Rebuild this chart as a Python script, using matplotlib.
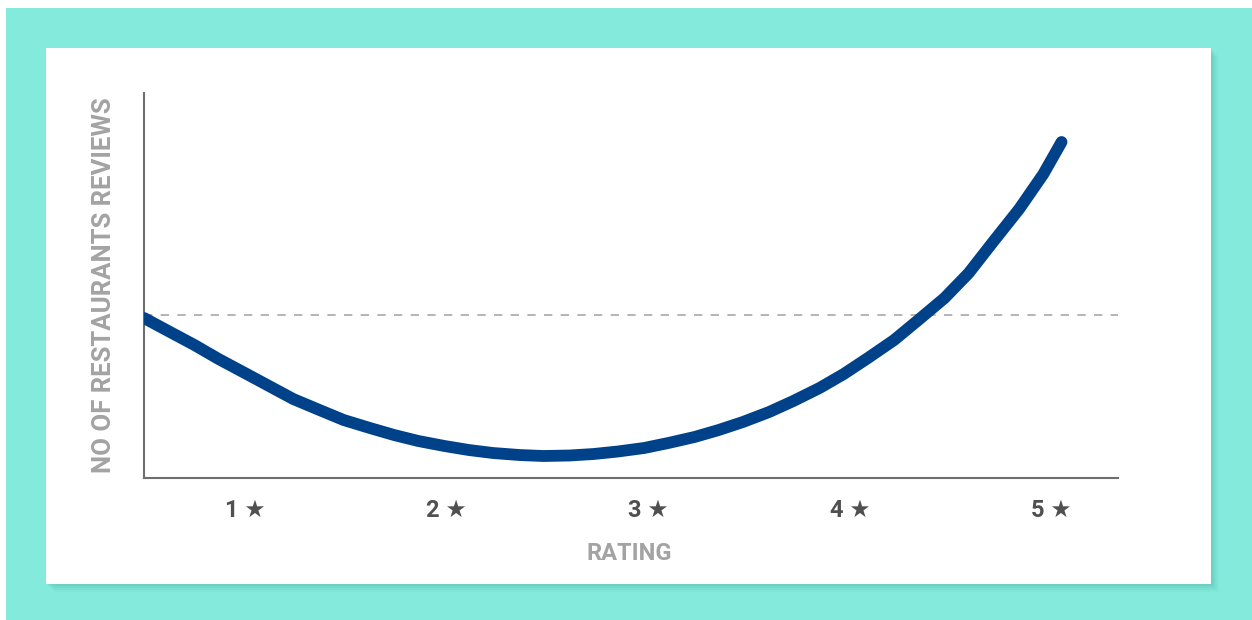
import matplotlib.pyplot as plt
from matplotlib.patches import Rectangle

# rating (x) vs number of reviews (arbitrary units)
ratings = [0.50, 0.62, 0.75, 0.87, 1.00, 1.12, 1.24, 1.37, 1.49, 1.62,
           1.74, 1.86, 1.99, 2.11, 2.23, 2.36, 2.48, 2.61, 2.73, 2.85,
           2.98, 3.10, 3.23, 3.35, 3.47, 3.60, 3.72, 3.85, 3.97, 4.09,
           4.22, 4.34, 4.47, 4.59, 4.71, 4.84, 4.96, 5.05]
reviews = [160, 147, 133, 119, 105, 92, 79, 68, 58, 50,
           43, 37, 32, 28, 25, 23, 22, 22.5, 24, 26.5,
           30, 35, 41, 48, 56, 66, 77, 90, 104, 120,
           138, 158, 180, 205, 236, 269, 304, 336]
average = 163

tick_pos = [1, 2, 3, 4, 5]
tick_labels = ['1 ★', '2 ★', '3 ★', '4 ★', '5 ★']

W, H = 1252, 620
fig = plt.figure(figsize=(W / 100, H / 100), dpi=100)
fig.patch.set_facecolor('white')


def px_rect(x0, y0, x1, y1, **kw):
    # rectangle in pixel coords (top-left origin) -> figure fraction
    return Rectangle((x0 / W, 1 - y1 / H), (x1 - x0) / W, (y1 - y0) / H,
                     transform=fig.transFigure, **kw)


fig.patches.append(px_rect(6, 8, W, H, facecolor='#84ebdc', edgecolor='none', zorder=0))
# soft shadow under the card
for i, a in enumerate([0.10, 0.08, 0.06, 0.04]):
    d = 2 + i * 2
    fig.patches.append(px_rect(46 + d, 48 + d, 1211 + d, 584 + d,
                               facecolor='#2a8a7c', edgecolor='none', alpha=a, zorder=0.5))
fig.patches.append(px_rect(46, 48, 1211, 584, facecolor='white', edgecolor='none', zorder=1))

ax = fig.add_axes([144 / W, 1 - 478 / H, (1118 - 144) / W, (478 - 93) / H])
ax.set_facecolor('none')
ax.set_zorder(2)

ax.plot(ratings, reviews, color='#00428a', lw=8.5, solid_capstyle='round',
        solid_joinstyle='round', zorder=3)
ax.axhline(average, color='#a8a8a8', lw=1.2, ls=(0, (5, 5)), zorder=2)

ax.set_xlim(0.5, 5.33)
ax.set_ylim(0, 385)

for s in ['top', 'right']:
    ax.spines[s].set_visible(False)
for s in ['left', 'bottom']:
    ax.spines[s].set_color('#6e6e6e')
    ax.spines[s].set_linewidth(1.5)

fam = ['Roboto', 'DejaVu Sans']
ax.set_xticks(tick_pos)
ax.set_xticklabels(tick_labels, family=fam, fontsize=17, fontweight='bold', color='#505050')
ax.set_yticks([])
ax.tick_params(axis='x', length=0, pad=15)

ax.set_xlabel('RATING', family=fam, fontsize=17, fontweight='bold', color='#a3a3a3')
ax.set_ylabel('NO OF RESTAURANTS REVIEWS', family=fam, fontsize=18.5, fontweight='bold',
              color='#a3a3a3')
ax.xaxis.set_label_coords((629 - 144) / (1118 - 144), -(553 - 478) / (478 - 93))
ax.yaxis.set_label_coords(-(144 - 104) / (1118 - 144), (478 - 285) / (478 - 93))
ax.xaxis.label.set_va('center')
ax.yaxis.label.set_va('center')

fig.savefig('out.png', dpi=100)
